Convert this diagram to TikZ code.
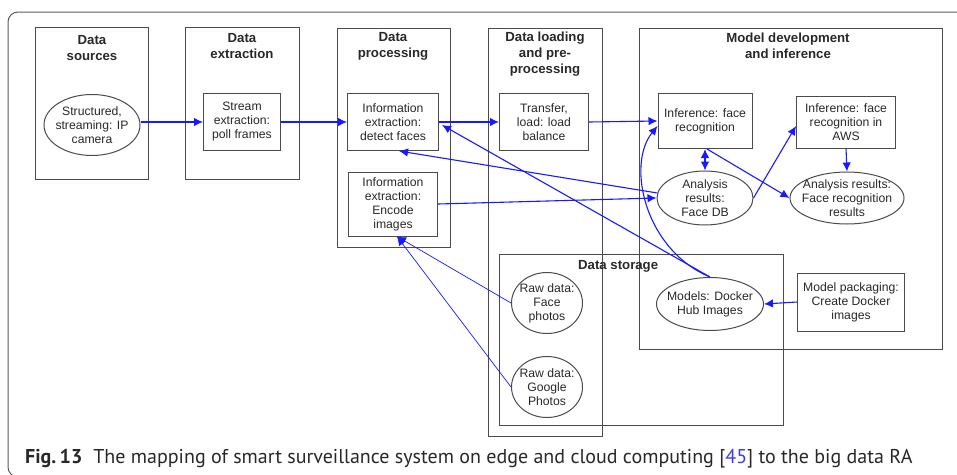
\documentclass[tikz,border=0pt]{standalone}
\usepackage{fontspec}
\usepackage{tikz}
\usetikzlibrary{shapes.geometric, calc, arrows.meta}
\newfontfamily\diagfont{Liberation Sans}
\newfontfamily\capfont{PT Sans}
\definecolor{edge}{RGB}{75, 75, 75}
\definecolor{ink}{RGB}{40, 40, 40}
\definecolor{flowblue}{RGB}{25, 25, 255}
\definecolor{refblue}{RGB}{60, 60, 230}
\definecolor{frame}{RGB}{90, 90, 90}

\begin{document}
\begin{tikzpicture}[x=1pt, y=-1pt,
    every node/.style={text=ink, font=\diagfont\fontsize{12.2}{14}\selectfont},
    group/.style={draw=edge, line width=1},
    head/.style={align=center, font=\diagfont\bfseries\fontsize{13.2}{16}\selectfont},
    box/.style={draw=edge, line width=1, align=center, inner sep=0},
    oval/.style={ellipse, draw=edge, line width=1, align=center, inner sep=-14pt},
    flow/.style={-{Latex[length=9pt, width=8.5pt]}, color=flowblue, line width=1.1},
    twoway/.style={{Latex[length=9pt, width=8.5pt]}-{Latex[length=9pt, width=8.5pt]}, color=flowblue, line width=1.1},
    thinflow/.style={flow, line width=0.7}]

  \useasboundingbox (0, 0) rectangle (957, 474);
  \draw [color=frame, line width=1, rounded corners=10] (8, 12) rectangle (980, 477);

  % columns of the RA
  \draw [group] (35, 27) rectangle (148, 179);
  \node[head] at (92, 48) { Data\\sources };
  \draw [group] (185, 27) rectangle (299, 179);
  \node[head] at (242, 46) { Data\\extraction };
  \draw [group] (337, 28) rectangle (450, 247);
  \node[head] at (393, 46) { Data\\processing };
  \draw [group] (488, 28) rectangle (602, 436);
  \node[head] at (545, 54) { Data loading\\and pre-\\processing };
  \draw [group] (639, 28) rectangle (942, 349);
  \node[head] at (788, 46) { Model development\\and inference };
  \draw [group] (499, 254) rectangle (783, 425);
  \node[head] at (620, 266) { Data storage };

  \node[oval, minimum width=96, minimum height=61] (src) at (92, 125) { Structured,\\streaming: IP\\camera };
  \node[box, minimum width=77, minimum height=57] (stream) at (242, 122) { Stream\\extraction:\\poll frames };
  \node[box, minimum width=91, minimum height=57] (detect) at (393, 122) { Information\\extraction:\\detect faces };
  \node[box, minimum width=89, minimum height=64] (encode) at (393, 204) { Information\\extraction:\\Encode\\images };
  \node[box, minimum width=89, minimum height=57] (transfer) at (544, 122) { Transfer,\\load: load\\balance };
  \node[box, minimum width=94, minimum height=55] (infer) at (705, 121) { Inference: face\\recognition };
  \node[box, minimum width=99, minimum height=52] (aws) at (846, 122) { Inference: face\\recognition in\\AWS };
  \node[oval, minimum width=96, minimum height=54] (facedb) at (705, 198) { Analysis\\results:\\Face DB };
  \node[oval, minimum width=114, minimum height=52] (results) at (847, 198) { Analysis results:\\Face recognition\\results };
  \node[oval, minimum width=71, minimum height=61] (facephotos) at (547, 303) { Raw data:\\Face\\photos };
  \node[oval, minimum width=71, minimum height=61] (google) at (547, 387) { Raw data:\\Google\\Photos };
  \node[oval, minimum width=107, minimum height=53] (docker) at (710, 304) { Models: Docker\\Hub Images };
  \node[box, minimum width=107, minimum height=58] (packaging) at (851, 302) { Model packaging:\\Create Docker\\images };

  \draw [flow] (src.east |- stream.west) -- (stream.west);
  \draw [flow] (stream.east) -- (detect.west);
  \draw [flow] (detect.east) -- (transfer.west);
  \draw [flow] (transfer.east) -- (infer.west);
  \draw [flow] (docker.north) -- ($(detect.east)+(3, 3)$);
  \draw [flow] (docker.north) .. controls (645, 250) and (626, 165) .. ($(infer.west)+(0, 5)$);
  \draw [flow] (facedb.174) -- ($(detect.south)+(6, 0)$);
  \draw [flow] (encode.east) -- (facedb.west);
  \draw [twoway] (infer.south) -- (facedb.north);
  \draw [flow] ($(infer.south)+(2, 0)$) -- (results.west);
  \draw [flow] (facedb.east) -- ($(aws.west)+(0, 4)$);
  \draw [flow] (aws.south) -- (results.north);
  \draw [flow] (packaging.west) -- (docker.east);
  \draw [thinflow] (facephotos.west) -- ($(encode.south)+(4, 0)$);
  \draw [thinflow] (google.west) -- ($(encode.south)+(4, 0)$);

  \node[anchor=base west, inner sep=0, font=\capfont\fontsize{20}{24}\selectfont, text=ink] (caption) at (25, 463)
    { {\bfseries Fig.\,13}\hspace{0.55em}The mapping of smart surveillance system on edge and cloud computing [\textcolor{refblue}{45}] to the big data RA };

\end{tikzpicture}
\end{document}
